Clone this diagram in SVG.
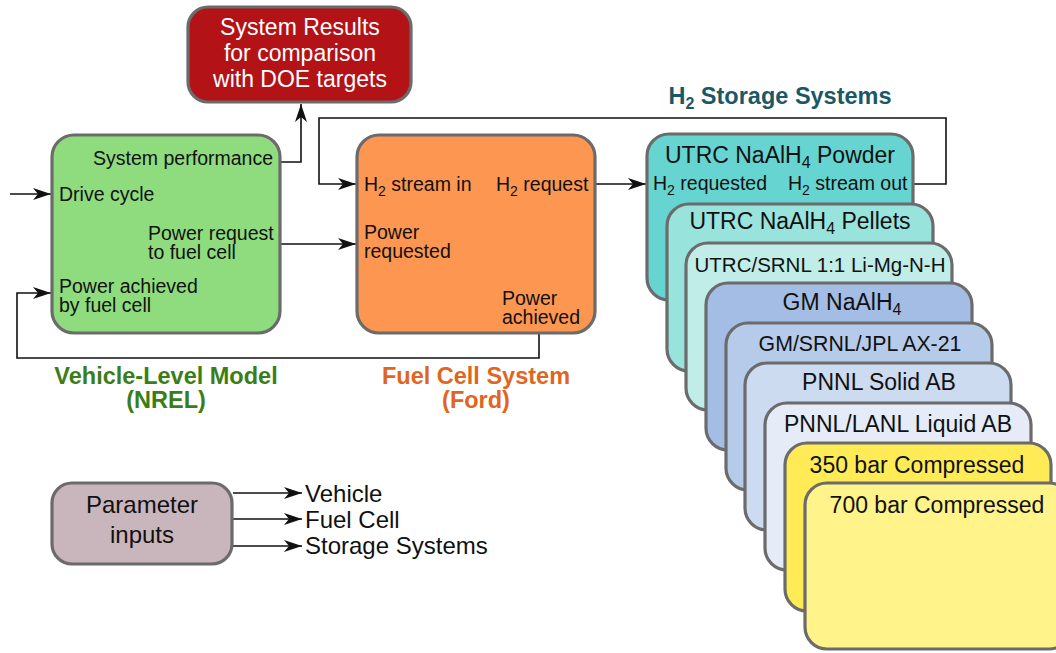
<svg xmlns="http://www.w3.org/2000/svg" width="1056" height="653" viewBox="0 0 1056 653">
<style>
  text { font-family: "Liberation Sans", Arial, sans-serif; fill: #111; }
  .box { stroke: #6b6b6b; stroke-width: 3.2; }
  .lbl { font-size: 19.5px; }
  .ttl { font-size: 23px; }
  .hd { font-size: 23.5px; font-weight: bold; }
  .big { font-size: 24px; }
  .conn { fill: none; stroke: #111; stroke-width: 1.6; marker-end: url(#ah); }
  .mid { text-anchor: middle; }
  .end { text-anchor: end; }
</style>
<defs>
  <marker id="ah" viewBox="0 0 18 12" refX="18" refY="6" markerWidth="18" markerHeight="12" orient="auto" markerUnits="userSpaceOnUse">
    <path d="M0,0 L18,6 L0,12 L5,6 z" fill="#111"/>
  </marker>
</defs>
<rect width="1056" height="653" fill="#ffffff"/>

<g id="connectors">
  <path class="conn" d="M10,194 H51"/>
  <path class="conn" d="M280,162 H301 V104"/>
  <path class="conn" d="M280,244 H356"/>
  <path class="conn" d="M539,334 V358 H17 V293 H51"/>
  <path class="conn" d="M595,184 H646"/>
  <path class="conn" d="M913,184 H946 V118 H319 V184 H356"/>
  <path class="conn" d="M233,493 H302"/>
  <path class="conn" d="M233,519 H302"/>
  <path class="conn" d="M233,546 H302"/>
</g>

<g id="system-results">
  <rect class="box" x="188" y="7" width="223" height="95" rx="20" fill="#b31217"/>
  <text class="ttl mid" style="fill:#fff"><tspan x="300" y="35">System Results</tspan><tspan x="300" y="61">for comparison</tspan><tspan x="300" y="87">with DOE targets</tspan></text>
</g>

<g id="vehicle-model">
  <rect class="box" x="52" y="135" width="228" height="198" rx="22" fill="#8fdc7e"/>
  <text class="lbl end" x="273" y="165">System performance</text>
  <text class="lbl" x="59" y="201">Drive cycle</text>
  <text class="lbl"><tspan x="148" y="240">Power request</tspan><tspan x="148" y="259">to fuel cell</tspan></text>
  <text class="lbl"><tspan x="59" y="293">Power achieved</tspan><tspan x="59" y="312">by fuel cell</tspan></text>
  <text class="hd mid" style="fill:#3b7d16"><tspan x="166" y="384">Vehicle-Level Model</tspan><tspan x="166" y="408">(NREL)</tspan></text>
</g>

<g id="fuel-cell">
  <rect class="box" x="357" y="135" width="238" height="198" rx="22" fill="#fd9650"/>
  <text class="lbl" x="364" y="191">H<tspan font-size="14" dy="5">2</tspan><tspan dy="-5"> stream in</tspan></text>
  <text class="lbl" x="496" y="191">H<tspan font-size="14" dy="5">2</tspan><tspan dy="-5"> request</tspan></text>
  <text class="lbl"><tspan x="364" y="239">Power</tspan><tspan x="364" y="258">requested</tspan></text>
  <text class="lbl"><tspan x="502" y="305">Power</tspan><tspan x="502" y="324">achieved</tspan></text>
  <text class="hd mid" style="fill:#e0661f"><tspan x="476" y="384">Fuel Cell System</tspan><tspan x="476" y="408">(Ford)</tspan></text>
</g>

<g id="storage-title">
  <text class="hd mid" x="780" y="104" style="fill:#1c5765">H<tspan font-size="16" dy="5">2</tspan><tspan dy="-5"> Storage Systems</tspan></text>
</g>

<g id="s1">
  <rect class="box" x="647" y="134" width="266" height="166" rx="22" fill="#66d4d0"/>
  <text class="ttl mid" x="780" y="163">UTRC NaAlH<tspan font-size="16" dy="5">4</tspan><tspan dy="-5"> Powder</tspan></text>
  <text class="lbl" x="653" y="190">H<tspan font-size="14" dy="5">2</tspan><tspan dy="-5"> requested</tspan></text>
  <text class="lbl" x="788" y="190">H<tspan font-size="14" dy="5">2</tspan><tspan dy="-5"> stream out</tspan></text>
</g>
<g id="s2">
  <rect class="box" x="667" y="204" width="266" height="167" rx="22" fill="#99e3dd"/>
  <text class="ttl mid" x="800" y="229">UTRC NaAlH<tspan font-size="16" dy="5">4</tspan><tspan dy="-5"> Pellets</tspan></text>
</g>
<g id="s3">
  <rect class="box" x="686" y="243" width="266" height="167" rx="22" fill="#c0ede8"/>
  <text class="mid" x="820" y="272" font-size="20.5">UTRC/SRNL 1:1 Li-Mg-N-H</text>
</g>
<g id="s4">
  <rect class="box" x="706" y="283" width="266" height="167" rx="22" fill="#a3bde5"/>
  <text class="ttl mid" x="842" y="310">GM NaAlH<tspan font-size="16" dy="5">4</tspan></text>
</g>
<g id="s5">
  <rect class="box" x="726" y="323" width="266" height="167" rx="22" fill="#b6cbea"/>
  <text class="mid" x="860" y="351" font-size="21.3">GM/SRNL/JPL AX-21</text>
</g>
<g id="s6">
  <rect class="box" x="745" y="363" width="266" height="167" rx="22" fill="#cddbf1"/>
  <text class="ttl mid" x="879" y="390">PNNL Solid AB</text>
</g>
<g id="s7">
  <rect class="box" x="765" y="403" width="266" height="167" rx="22" fill="#e5ecf8"/>
  <text class="ttl mid" x="898" y="432">PNNL/LANL Liquid AB</text>
</g>
<g id="s8">
  <rect class="box" x="785" y="443" width="266" height="168" rx="22" fill="#ffeb55"/>
  <text class="ttl mid" x="917" y="473">350 bar Compressed</text>
</g>
<g id="s9">
  <rect class="box" x="805" y="483" width="266" height="166" rx="22" fill="#fff38a"/>
  <text class="ttl mid" x="937" y="513">700 bar Compressed</text>
</g>

<g id="parameter-inputs">
  <rect class="box" x="52" y="483" width="180" height="81" rx="20" fill="#c9b5bc"/>
  <text class="big mid"><tspan x="142" y="513">Parameter</tspan><tspan x="142" y="543">inputs</tspan></text>
  <text class="big"><tspan x="305" y="502">Vehicle</tspan><tspan x="305" y="528">Fuel Cell</tspan><tspan x="305" y="554">Storage Systems</tspan></text>
</g>
</svg>
